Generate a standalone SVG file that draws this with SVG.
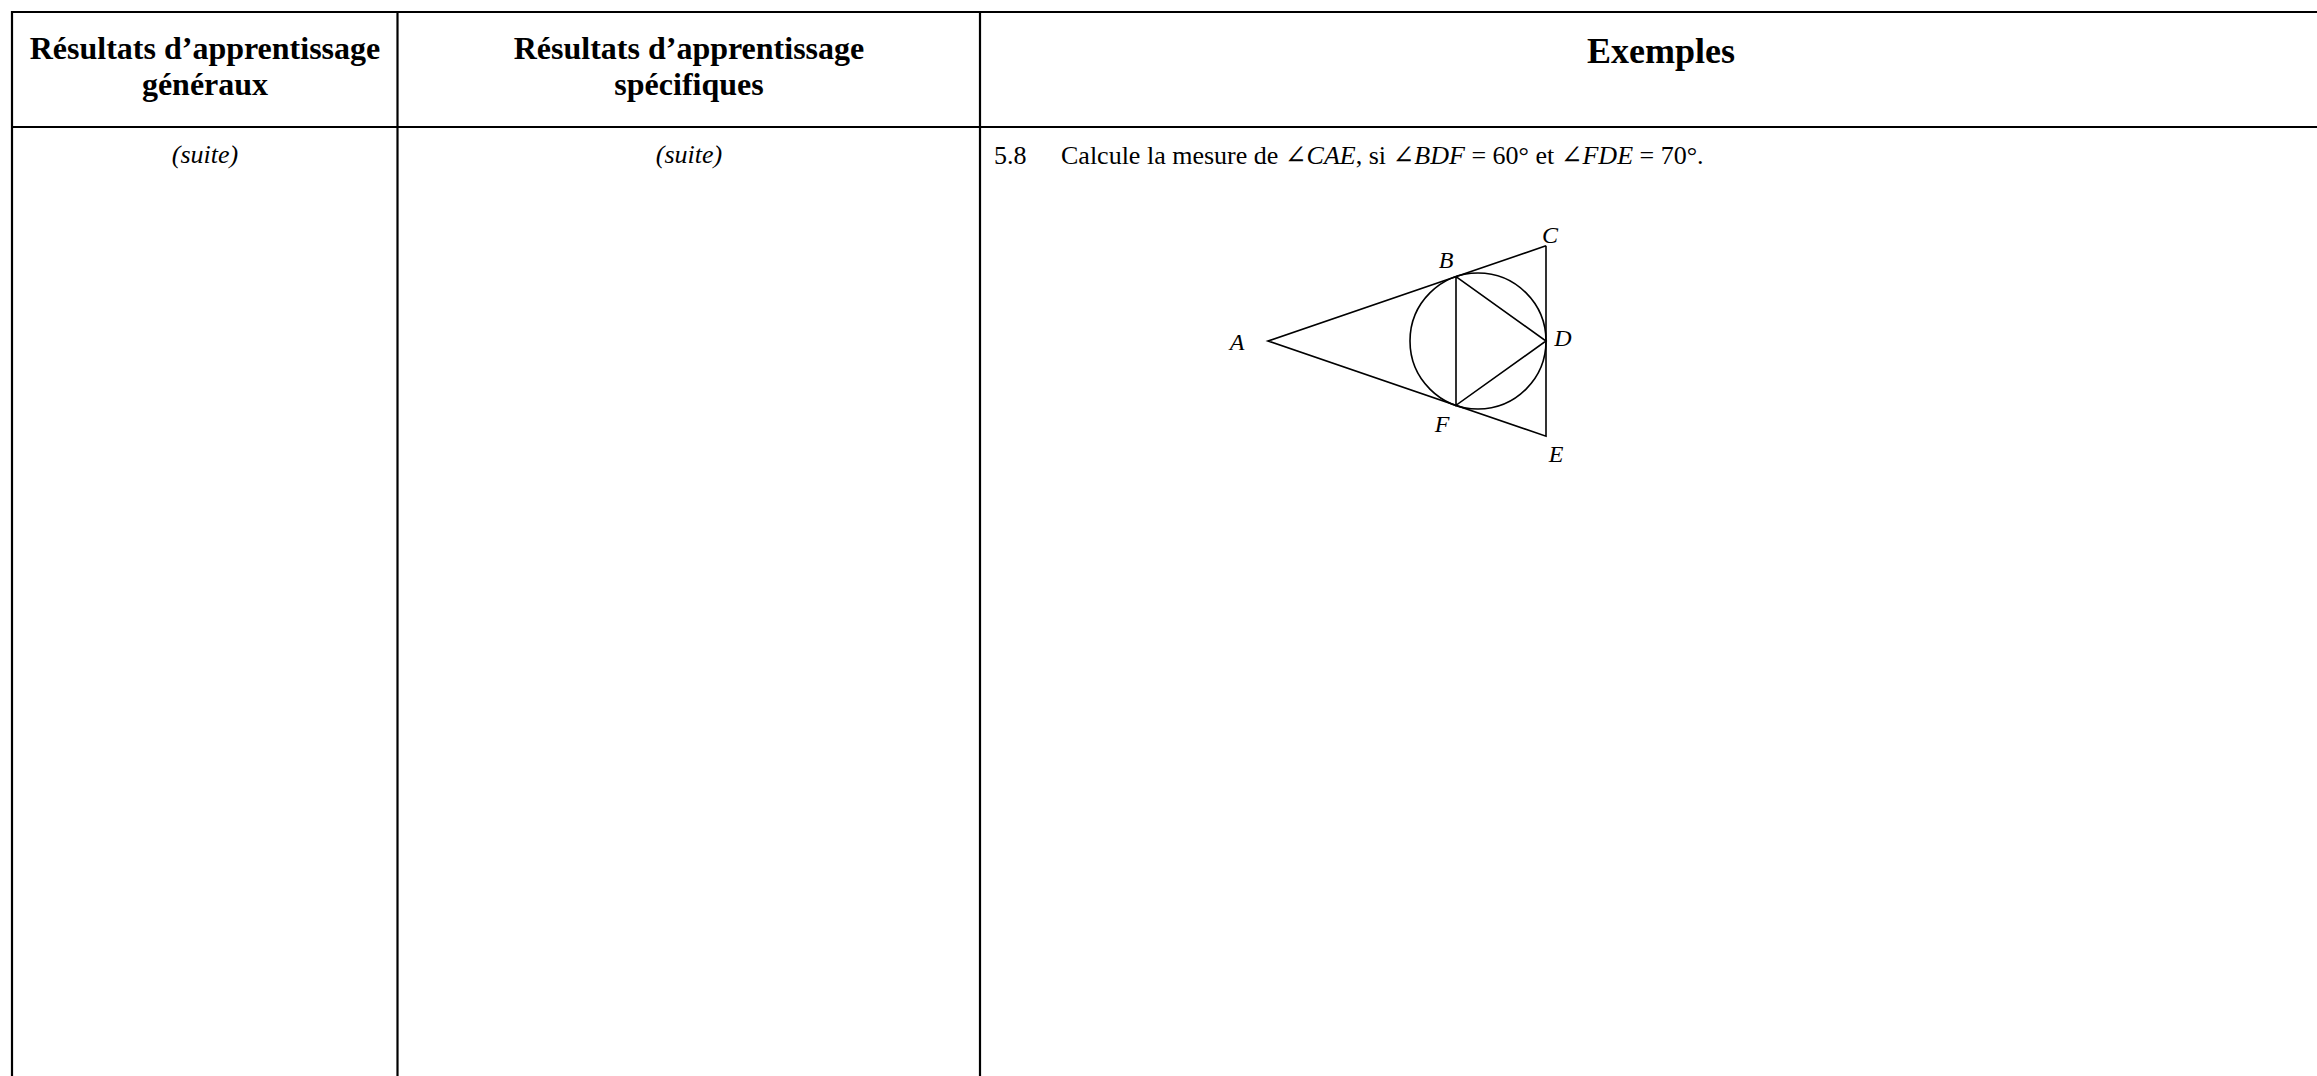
<svg xmlns="http://www.w3.org/2000/svg" width="2317" height="1076" viewBox="0 0 2317 1076">
<style>
text{font-family:"Liberation Serif","DejaVu Serif",serif;fill:#000}
.hd{font-weight:bold;font-size:32px;text-anchor:middle}
.hx{font-weight:bold;font-size:36px;text-anchor:middle}
.it{font-style:italic}
.su{font-style:italic;font-size:26px;text-anchor:middle}
.body{font-size:26px}
.lbl{font-style:italic;font-size:24px;text-anchor:middle}
.rule{stroke:#000;stroke-width:2.2;fill:none}
.geo{stroke:#000;stroke-width:1.6;fill:none}
</style>
<rect width="2317" height="1076" fill="#fff"/>
<g id="table">
<line class="rule" x1="12" y1="12" x2="2317" y2="12"/>
<line class="rule" x1="12" y1="127" x2="2317" y2="127"/>
<line class="rule" x1="12" y1="11" x2="12" y2="1076"/>
<line class="rule" x1="397.5" y1="12" x2="397.5" y2="1076"/>
<line class="rule" x1="980" y1="12" x2="980" y2="1076"/>
</g>
<g id="header-general">
<text class="hd" x="205" y="59">Résultats d’apprentissage</text>
<text class="hd" x="205" y="95">généraux</text>
</g>
<g id="header-specific">
<text class="hd" x="689" y="59">Résultats d’apprentissage</text>
<text class="hd" x="689" y="95">spécifiques</text>
</g>
<g id="header-examples">
<text class="hx" x="1661" y="63">Exemples</text>
</g>
<g id="cell-general">
<text class="su" x="205" y="163">(suite)</text>
</g>
<g id="cell-specific">
<text class="su" x="689" y="163">(suite)</text>
</g>
<g id="cell-examples">
<text class="body" x="994" y="164">5.8</text>
<text class="body" x="1061" y="164">Calcule la mesure de ∠<tspan class="it">CAE</tspan>, si ∠<tspan class="it">BDF</tspan> = 60° et ∠<tspan class="it">FDE</tspan> = 70°.</text>
</g>
<g id="figure">
<g id="connectors">
<polyline class="geo" points="1546,245.8 1268,341 1546,436.2 1546,245.8"/>
<polyline class="geo" points="1456,276.7 1456,405.3 1546,341 1456,276.7"/>
</g>
<circle id="incircle" class="geo" cx="1478" cy="341" r="68"/>
<g id="labels">
<text class="lbl" x="1237" y="350">A</text>
<text class="lbl" x="1446" y="268">B</text>
<text class="lbl" x="1550" y="243">C</text>
<text class="lbl" x="1563" y="346">D</text>
<text class="lbl" x="1556" y="462">E</text>
<text class="lbl" x="1442" y="432">F</text>
</g>
</g>
</svg>
